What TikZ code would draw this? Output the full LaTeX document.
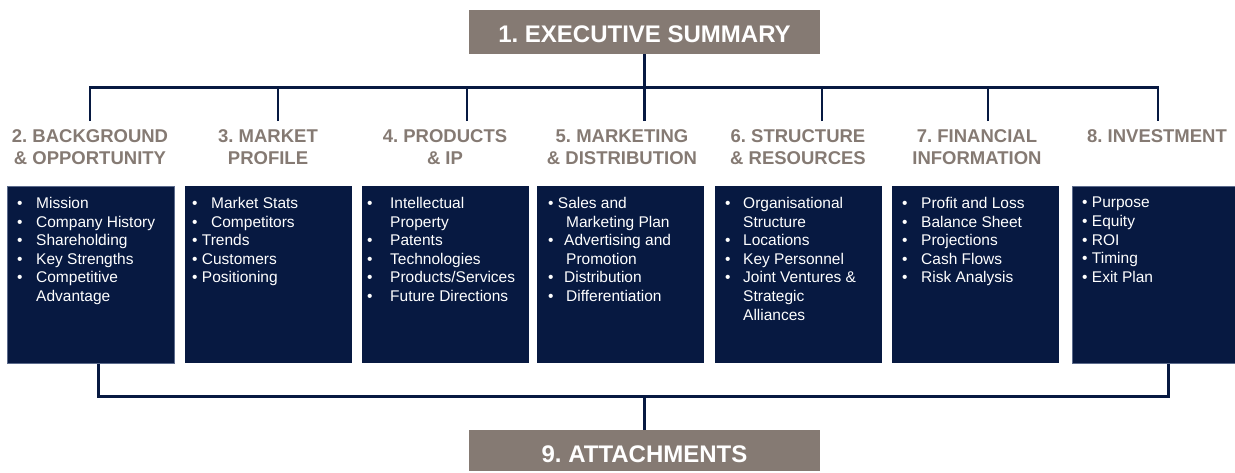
\documentclass[tikz,border=0pt]{standalone}
\usepackage{fontspec}
\setmainfont{Liberation Sans}
\usetikzlibrary{positioning,calc}
\definecolor{navy}{HTML}{071941}
\definecolor{taupe}{HTML}{857A73}
\definecolor{rim}{HTML}{5C6B8C}
% bullet with a tab after it, bullet with a space, and a run-on line
\newcommand{\bwide}[2][19pt]{\makebox[#1][l]{\textbullet}#2}
\newcommand{\bnarrow}[1]{\textbullet\ #1}
\newcommand{\bcont}[2][19pt]{\hspace*{#1}#2}

\begin{document}
\frenchspacing
\begin{tikzpicture}[x=1pt,y=-1pt]
\tikzstyle{head}=[rectangle,fill=taupe,text=white,font=\fontsize{24}{28}\selectfont\bfseries,minimum width=351pt,minimum height=44pt,text height=21pt,text depth=0pt,inner sep=0pt]
\tikzstyle{topic}=[anchor=north,align=center,text=taupe,font=\fontsize{18.5}{22}\selectfont\bfseries,inner sep=0pt]
\tikzstyle{card}=[rectangle,fill=navy,anchor=north west,minimum width=167pt,minimum height=177pt,inner sep=0pt]
\tikzstyle{list}=[anchor=north west,align=left,text=white,font=\fontsize{15.5}{18.6}\selectfont,inner sep=0pt]
\tikzstyle{link}=[draw=navy,line width=2.8pt]
\useasboundingbox (0,0) rectangle (1235,472);
\node[head] (exec) at (644.5,32) {1. EXECUTIVE SUMMARY};
\node[head,minimum height=41pt,text height=24pt] (att) at (644.5,450.5) {9. ATTACHMENTS};
% section headings
\node[topic] (t2) at (90,129.5) {2. BACKGROUND\\\& OPPORTUNITY};
\node[topic] (t3) at (268,129.5) {3. MARKET\\PROFILE};
\node[topic] (t4) at (445,129.5) {4. PRODUCTS\\\& IP};
\node[topic] (t5) at (622,129.5) {5. MARKETING\\\& DISTRIBUTION};
\node[topic] (t6) at (798,129.5) {6. STRUCTURE\\\& RESOURCES};
\node[topic] (t7) at (977,129.5) {7. FINANCIAL\\INFORMATION};
\node[topic] (t8) at (1157,129.5) {8. INVESTMENT};
% content cards
\foreach \n/\x in {3/185,4/362,5/537,6/715,7/892} \node[card] (c\n) at (\x,186) {};
\node[card,draw=rim,line width=0.8pt] (c2) at (7,186) {};
\node[card,draw=rim,line width=0.8pt,minimum width=163pt] (c8) at (1072,186) {};
\node[list] (l2) at (17,197) {\bwide{Mission}\\\bwide{Company History}\\\bwide{Shareholding}\\\bwide{Key Strengths}\\\bwide{Competitive}\\\bcont{Advantage}};
\node[list] (l3) at (192,197) {\bwide{Market Stats}\\\bwide{Competitors}\\\bnarrow{Trends}\\\bnarrow{Customers}\\\bnarrow{Positioning}};
\node[list] (l4) at (367,197) {\bwide[23pt]{Intellectual}\\\bcont[23pt]{Property}\\\bwide[23pt]{Patents}\\\bwide[23pt]{Technologies}\\\bwide[23pt]{Products/Services}\\\bwide[23pt]{Future Directions}};
\node[list] (l5) at (548,197) {\bnarrow{Sales and}\\\bcont[18pt]{Marketing Plan}\\\bwide[16pt]{Advertising and}\\\bcont[18pt]{Promotion}\\\bwide[16pt]{Distribution}\\\bwide[18pt]{Differentiation}};
\node[list] (l6) at (725,197) {\bwide[18pt]{Organisational}\\\bcont[18pt]{Structure}\\\bwide[18pt]{Locations}\\\bwide[18pt]{Key Personnel}\\\bwide[18pt]{Joint Ventures \&}\\\bcont[18pt]{Strategic}\\\bcont[18pt]{Alliances}};
\node[list] (l7) at (902,197) {\bwide{Profit and Loss}\\\bwide{Balance Sheet}\\\bwide{Projections}\\\bwide{Cash Flows}\\\bwide{Risk Analysis}};
\node[list] (l8) at (1082,197) {\bnarrow{Purpose}\\\bnarrow{Equity}\\\bnarrow{ROI}\\\bnarrow{Timing}\\\bnarrow{Exit Plan}};
% upper bus
\coordinate (d2) at (90,121); \coordinate (d3) at (278,121); \coordinate (d4) at (467,121);
\coordinate (d5) at (644.5,121); \coordinate (d6) at (822,121); \coordinate (d7) at (988,121);
\coordinate (d8) at (1158,121);
\draw[link] (d2) |- ($(exec.south)+(0,33)$) -| (d8);
\draw[link] (exec.south) -- (d5);
\foreach \n in {3,4,6,7} \draw[link] (d\n) -- ++(0,-34);
% lower bus
\draw[link] ($(c2.south)+(7.5,0)$) |- ($(att.north)+(0,-33)$) -| ($(c8.south)+(14.5,0)$);
\draw[link] (att.north) -- ++(0,-33);
\end{tikzpicture}
\end{document}
